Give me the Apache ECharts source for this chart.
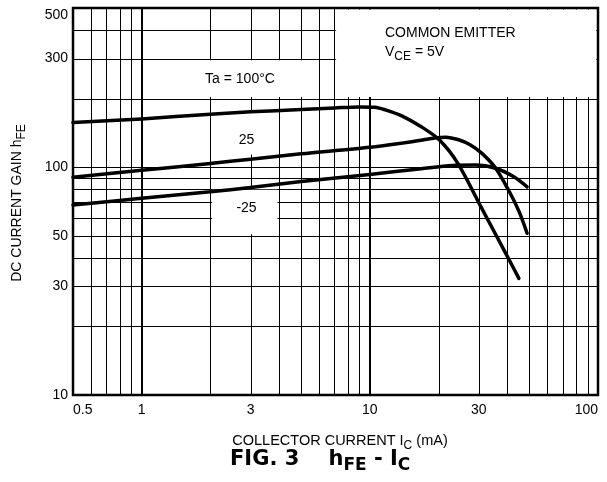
<!DOCTYPE html>
<html><head><meta charset="utf-8">
<script src="https://cdn.jsdelivr.net/npm/echarts@6/dist/echarts.min.js"></script>
<style>html,body{margin:0;padding:0;background:#fff}#c{width:607px;height:482px}</style>
</head><body><div id="c"></div>
<script>
// ---- data ----
const xTickLabels = [0.5, 1, 3, 10, 30, 100];
const yTickLabels = [10, 30, 50, 100, 300, 500];
const xGridValues = [0.6, 0.7, 0.8, 0.9, 1, 2, 3, 4, 5, 6, 7, 8, 9, 10, 20, 30, 40, 50, 60, 70, 80, 90];
const yGridValues = [20, 30, 40, 50, 60, 70, 80, 90, 100, 200, 300, 400];
const xMajorGrid = [1, 10];

const ic100  = [0.5, 1, 2, 3, 5, 7, 9, 10.5, 11.7, 13.8, 16.8, 20.2, 24.3, 30.7, 40.1, 45];
const hfe100 = [157, 163, 171, 175, 179, 182, 184, 183.5, 178.5, 168, 150.5, 131.7, 104, 67, 40.5, 32.5];

const ic25   = [0.5, 1, 2, 3, 5, 10, 15, 19, 21.5, 24.5, 27.5, 31, 35.6, 40.9, 45.1, 48.9];
const hfe25  = [90.3, 96.9, 103.9, 108.5, 114.5, 122.3, 129, 134, 135.5, 132, 125.5, 115, 99, 78, 63.8, 51.3];

const icM25  = [0.5, 1, 2, 3, 5, 10, 16.8, 23, 29, 35.6, 42.6, 48.9];
const hfeM25 = [68.3, 73, 78, 81.5, 86.5, 93, 98.5, 101.8, 102.3, 99, 91, 82];

// white label boxes in data coords [x0, y0, x1, y1]
const boxes = [[1, 200, 6, 300], [7, 200, 100, 500], [2, 112, 4, 180], [2, 50, 4, 81]];

const X_MIN = 0.5, X_MAX = 100, Y_MIN = 10, Y_MAX = 500;
const FONT = "'Liberation Sans', Arial, Helvetica, sans-serif";

function zip(a, b) { return a.map((v, i) => [v, b[i]]); }

const chart = echarts.init(document.getElementById('c'), null, {renderer: 'canvas'});

function crisp(v, w) { return (w % 2 === 1) ? Math.round(v) + 0.5 : Math.round(v); }

const curveStyle = {color: '#000', width: 3.5, cap: 'round', join: 'round'};

const option = {
  animation: false,
  backgroundColor: '#fff',
  grid: {left: 73, right: 9, top: 8, bottom: 87, containLabel: false},
  xAxis: {
    type: 'log', logBase: 10, min: X_MIN, max: X_MAX,
    axisLine: {show: false}, axisTick: {show: false}, splitLine: {show: false},
    axisLabel: {
      customValues: xTickLabels, margin: 8, color: '#000', fontSize: 14, fontFamily: FONT,
      alignMinLabel: 'left', alignMaxLabel: 'right',
      formatter: v => String(+(+v).toPrecision(3))
    }
  },
  yAxis: {
    type: 'log', logBase: 10, min: Y_MIN, max: Y_MAX,
    axisLine: {show: false}, axisTick: {show: false}, splitLine: {show: false},
    axisLabel: {
      customValues: yTickLabels, margin: 5, color: '#000', fontSize: 14, fontFamily: FONT,
      verticalAlignMaxLabel: 'top',
      formatter: v => String(+(+v).toPrecision(3))
    }
  },
  series: [
    { // vertical grid
      type: 'custom', silent: true, z: 1, clip: false,
      data: xGridValues.map(v => [v, Y_MIN]), encode: {x: 0, y: 1},
      renderItem: (params, api) => {
        const v = api.value(0);
        const w = xMajorGrid.indexOf(v) >= 0 ? 2 : 1;
        const a = api.coord([v, Y_MAX]), b = api.coord([v, Y_MIN]);
        const x = crisp(a[0], w);
        return {type: 'line', shape: {x1: x, y1: a[1], x2: x, y2: b[1]}, style: {stroke: '#000', lineWidth: w}};
      }
    },
    { // horizontal grid
      type: 'custom', silent: true, z: 1, clip: false,
      data: yGridValues.map(v => [X_MIN, v]), encode: {x: 0, y: 1},
      renderItem: (params, api) => {
        const v = api.value(1);
        const a = api.coord([X_MIN, v]), b = api.coord([X_MAX, v]);
        const y = crisp(a[1], 1);
        return {type: 'line', shape: {x1: a[0], y1: y, x2: b[0], y2: y}, style: {stroke: '#000', lineWidth: 1}};
      }
    },
    { // white label boxes
      type: 'custom', silent: true, z: 2, clip: false,
      data: boxes, encode: {x: [0, 2], y: [1, 3]},
      renderItem: (params, api) => {
        const p0 = api.coord([api.value(0), api.value(3)]);
        const p1 = api.coord([api.value(2), api.value(1)]);
        const inset = 1.6;
        return {type: 'rect', shape: {x: p0[0] + inset, y: p0[1] + inset, width: p1[0] - p0[0] - 2 * inset, height: p1[1] - p0[1] - 2 * inset},
                style: {fill: '#fff', stroke: null}};
      }
    },
    { // frame
      type: 'custom', silent: true, z: 3, clip: false,
      data: [[X_MIN, Y_MIN]], encode: {x: 0, y: 1},
      renderItem: (params, api) => {
        const a = api.coord([X_MIN, Y_MAX]), b = api.coord([X_MAX, Y_MIN]);
        return {type: 'rect', shape: {x: Math.round(a[0]), y: Math.round(a[1]), width: Math.round(b[0]) - Math.round(a[0]), height: Math.round(b[1]) - Math.round(a[1])},
                style: {fill: null, stroke: '#000', lineWidth: 2.5}};
      }
    },
    {type: 'line', name: 'Ta = 100°C', data: zip(ic100, hfe100), showSymbol: false, smooth: 0.3, lineStyle: curveStyle, z: 5, silent: true},
    {type: 'line', name: '25', data: zip(ic25, hfe25), showSymbol: false, smooth: 0.3, lineStyle: curveStyle, z: 5, silent: true},
    {type: 'line', name: '-25', data: zip(icM25, hfeM25), showSymbol: false, smooth: 0.3, lineStyle: curveStyle, z: 5, silent: true}
  ],
  graphic: [
    {type: 'text', x: 240, y: 79.5, z: 10, style: {text: 'Ta = 100°C', font: '14px ' + FONT, fill: '#000', align: 'center', verticalAlign: 'middle', textAlign: 'center', textVerticalAlign: 'middle'}},
    {type: 'text', x: 246.5, y: 140, z: 10, style: {text: '25', font: '14px ' + FONT, fill: '#000', align: 'center', verticalAlign: 'middle', textAlign: 'center', textVerticalAlign: 'middle'}},
    {type: 'text', x: 246.5, y: 208.5, z: 10, style: {text: '-25', font: '14px ' + FONT, fill: '#000', align: 'center', verticalAlign: 'middle', textAlign: 'center', textVerticalAlign: 'middle'}},
    {type: 'text', x: 385, y: 33.5, z: 10, style: {text: 'COMMON EMITTER', font: '14px ' + FONT, fill: '#000', align: 'left', verticalAlign: 'middle', textAlign: 'left', textVerticalAlign: 'middle'}},
    {type: 'text', x: 385, y: 54, z: 10, style: {
      text: '{a|V}{s|CE}{a| = 5V}', fill: '#000', align: 'left', verticalAlign: 'middle', textAlign: 'left', textVerticalAlign: 'middle',
      rich: {a: {fontSize: 14, fontFamily: FONT, padding: [0, 0, 4, 0]}, s: {fontSize: 12, fontFamily: FONT, padding: [5, 0, 0, 0]}}}},
    {type: 'text', x: 19, y: 203, rotation: Math.PI / 2, z: 10, style: {
      text: '{a|DC CURRENT GAIN h}{s|FE}', fill: '#000', align: 'center', verticalAlign: 'middle', textAlign: 'center', textVerticalAlign: 'middle',
      rich: {a: {fontSize: 14, fontFamily: FONT, padding: [0, 0, 4, 0]}, s: {fontSize: 12, fontFamily: FONT, padding: [5, 0, 0, 0]}}}},
    {type: 'text', x: 340, y: 443, z: 10, style: {
      text: '{a|COLLECTOR CURRENT I}{s|C}{a| (mA)}', fill: '#000', align: 'center', verticalAlign: 'middle', textAlign: 'center', textVerticalAlign: 'middle',
      rich: {a: {fontSize: 14.5, fontFamily: FONT, padding: [0, 0, 4, 0]}, s: {fontSize: 12, fontFamily: FONT, padding: [5, 0, 0, 0]}}}},
    {type: 'text', x: 230, y: 462, z: 10, style: {
      text: '{f|FIG. 3}{g|    h}{s|FE}{g| - I}{s|C}', fill: '#000', align: 'left', verticalAlign: 'middle', textAlign: 'left', textVerticalAlign: 'middle',
      rich: {f: {fontSize: 21, fontWeight: 'bold', fontFamily: "'DejaVu Sans', " + FONT, padding: [0, 0, 5, 0]},
             g: {fontSize: 21, fontWeight: 'bold', fontFamily: "'DejaVu Sans', " + FONT, padding: [0, 0, 5, 0]},
             s: {fontSize: 17, fontWeight: 'bold', fontFamily: "'DejaVu Sans', " + FONT, padding: [8, 0, 0, 0]}}}}
  ]
};
chart.setOption(option);
</script>
</body></html>
